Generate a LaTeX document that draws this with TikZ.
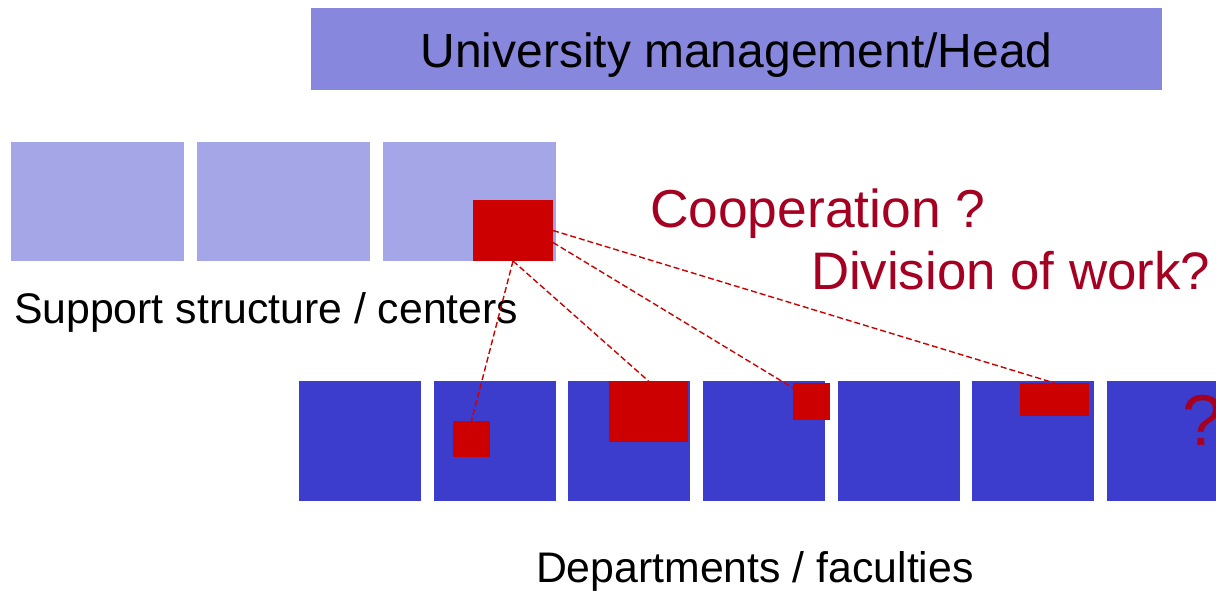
\documentclass[tikz,border=0pt]{standalone}
\usepackage{fontspec}
\setmainfont{Liberation Sans}
\definecolor{topbar}{RGB}{135,135,222}
\definecolor{support}{RGB}{164,166,232}
\definecolor{dept}{RGB}{61,61,205}
\definecolor{redbox}{RGB}{204,0,0}
\definecolor{textred}{RGB}{165,0,33}
\begin{document}
\begin{tikzpicture}[x=1pt,y=-1pt,
  blk/.style={inner sep=0pt,outer sep=0pt,anchor=north west,draw=none},
  supbox/.style={blk,fill=support,minimum width=173pt,minimum height=119pt},
  depbox/.style={blk,fill=dept,minimum width=122pt,minimum height=120pt},
  redsq/.style={blk,fill=redbox},
  lbl/.style={inner sep=0pt,outer sep=0pt,anchor=base west},
  link/.style={draw=redbox,line width=1.4pt,dash pattern=on 6pt off 3pt}]
\useasboundingbox (0,0) rectangle (1216,592);
% top bar
\node[blk,fill=topbar,minimum width=851pt,minimum height=82pt] (head) at (311,8) {};
\node[inner sep=0pt,anchor=base,font=\fontsize{48}{58}\selectfont] (headt) at (736.5,67) {University management/Head};
% support structure
\node[supbox] (s1) at (11,142) {};
\node[supbox] (s2) at (197,142) {};
\node[supbox] (s3) at (383,142) {};
\node[lbl,font=\fontsize{42.8}{51}\selectfont] (supt) at (14,323) {Support structure / centers};
% departments
\node[depbox] (d1) at (299,381) {};
\node[depbox] (d2) at (434,381) {};
\node[depbox] (d3) at (568,381) {};
\node[depbox] (d4) at (703,381) {};
\node[depbox] (d5) at (838,381) {};
\node[depbox] (d6) at (972,381) {};
\node[depbox] (d7) at (1107,381) {};
\node[lbl,font=\fontsize{42.8}{51}\selectfont] (dept) at (536,582) {Departments / faculties};
\node[lbl,text=textred,font=\fontsize{72}{86}\selectfont] (qm) at (1182,445) {?};
% red squares
\node[redsq,minimum width=80pt,minimum height=61pt] (src) at (473,200) {};
\node[redsq,minimum width=37pt,minimum height=36pt] (r1) at (453,421) {};
\node[redsq,minimum width=79pt,minimum height=61pt] (r2) at (609,381) {};
\node[redsq,minimum width=37pt,minimum height=37pt] (r4) at (793,383) {};
\node[redsq,minimum width=69pt,minimum height=33pt] (r6) at (1020,383) {};
% questions
\node[lbl,text=textred,font=\fontsize{53.4}{64}\selectfont] (coop) at (650,227) {Cooperation ?};
\node[lbl,text=textred,font=\fontsize{52.8}{63}\selectfont] (divw) at (811,289) {Division of work?};
% links
\draw[link] (src.south) -- (r1.north);
\draw[link] (src.south) -- (r2.north);
\draw[link] ([yshift=-12pt]src.east) -- ([yshift=-5pt]r4.north west);
\draw[link] (src.east) -- (r6.north);
\end{tikzpicture}
\end{document}
